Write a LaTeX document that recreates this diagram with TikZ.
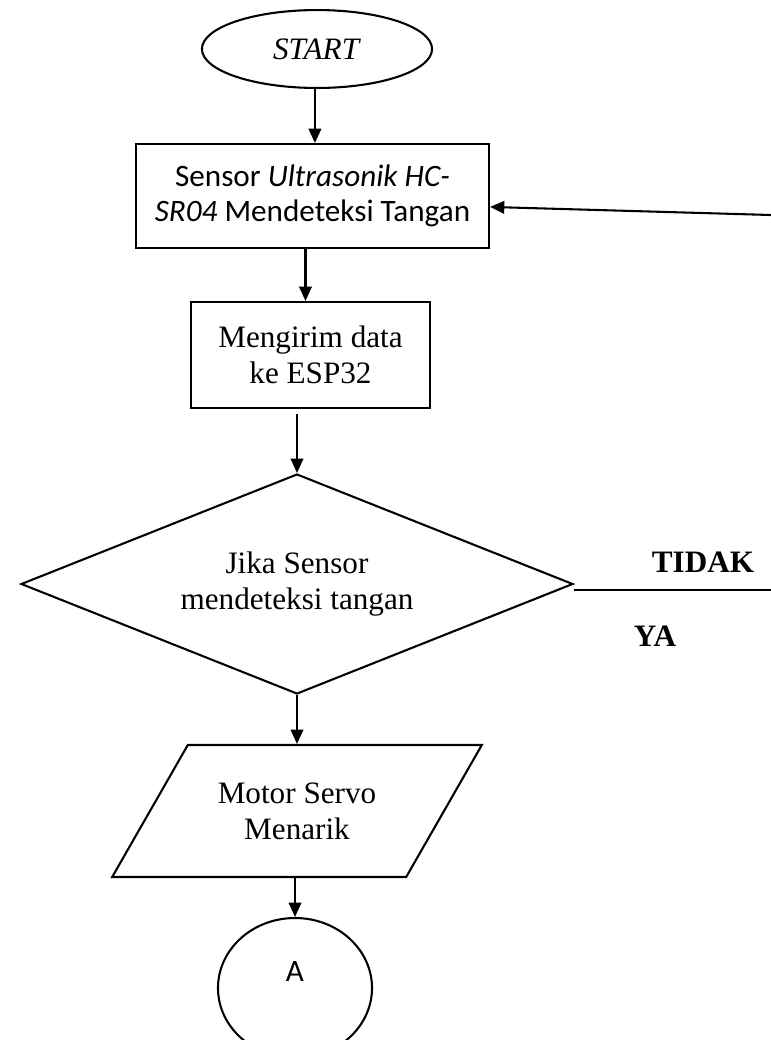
\documentclass[tikz,border=0pt]{standalone}
\usepackage{fontspec}
\setmainfont{Liberation Serif}
\newfontfamily\calibri{Carlito}
\usetikzlibrary{shapes.geometric, arrows.meta}

\begin{document}
\begin{tikzpicture}[x=0.385pt, y=-0.385pt, >={Triangle[length=5.5pt,width=4.8pt]},
    every node/.style={font=\fontsize{12}{13.8}\selectfont, align=center},
    terminal/.style={draw, ellipse, line width=0.8pt, inner sep=0pt},
    proses/.style={draw, rectangle, line width=0.8pt, inner sep=0pt},
    keputusan/.style={draw, diamond, aspect=2.5, line width=0.8pt, inner sep=0pt},
    io/.style={draw, trapezium, trapezium left angle=46, trapezium right angle=134,
        trapezium stretches=true, line width=0.8pt, inner sep=0pt},
    panah/.style={->, line width=0.8pt}]
    \useasboundingbox (0,0) rectangle (771,1040);

    % Simbol alur
    \node[terminal, minimum width=88.6pt, minimum height=30pt] (start) at (317,49) {\textit{START}};
    \node[proses, minimum width=135.9pt, minimum height=40pt, font=\calibri\fontsize{12}{13.5}\selectfont] (sensor) at (312.5,196)
        {Sensor \textit{Ultrasonik HC-}\\\textit{SR04} Mendeteksi Tangan};
    \node[proses, minimum width=92pt, minimum height=40.8pt] (kirim) at (310.5,355) {Mengirim data\\ke ESP32};
    \node[keputusan, minimum width=212.5pt, minimum height=84.7pt] (cek) at (297,584) {Jika Sensor\\mendeteksi tangan};
    \node[io, minimum width=142.5pt, minimum height=50.8pt] (servo) at (297,811) {Motor Servo\\Menarik};
    \node[terminal, minimum width=59.3pt, minimum height=53.9pt,
        label={[font=\calibri\fontsize{12}{13.8}\selectfont, yshift=6.2pt]center:A}] (a) at (295,988) {};

    % Label cabang
    \node[font=\bfseries\fontsize{12}{13.8}\selectfont] (tidak) at (703,562) {TIDAK};
    \node[font=\bfseries\fontsize{12}{13.8}\selectfont] (ya) at (655,636) {YA};

    % Ujung garis di tepi kanan
    \coordinate (balik) at (771,215);
    \coordinate (keluar) at (771,590);

    % Panah antar simbol
    \draw[panah] ([xshift=-0.8pt]start.south) -- ([xshift=-0.8pt]start.south |- sensor.north);
    \draw[panah] ([xshift=-2.7pt]sensor.south) -- ([xshift=-2.7pt]sensor.south |- kirim.north);
    \draw[panah] ([yshift=-2pt]kirim.south -| cek.north) -- (cek.north);
    \draw[panah] (cek.south) -- (cek.south |- servo.north);
    \draw[panah] (a.north |- servo.south) -- (a.north);
    \draw[line width=0.45pt] (cek.east |- keluar) -- (keluar);
    \draw[panah] (balik) -- ([yshift=-4.2pt]sensor.east);
\end{tikzpicture}
\end{document}
